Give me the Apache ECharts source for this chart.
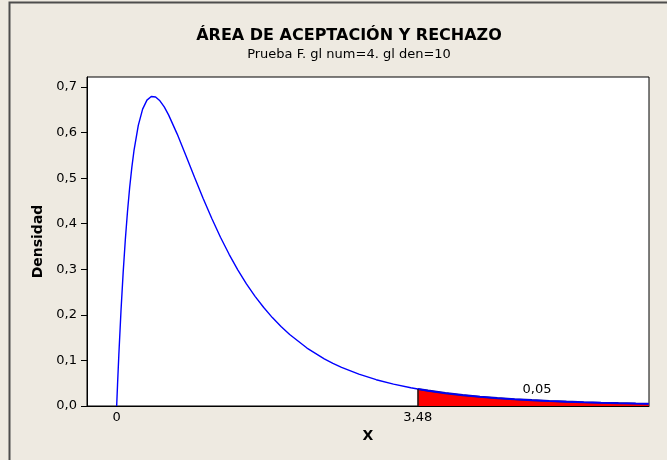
<!DOCTYPE html>
<html>
<head>
<meta charset="utf-8">
<script src="https://cdn.jsdelivr.net/npm/echarts@6/dist/echarts.min.js"></script>
<style>
html,body{margin:0;padding:0;background:#EEEAE1;}
#c{width:667px;height:460px;}
</style>
</head>
<body>
<div id="c"></div>
<script>
// Values
const titleText = 'ÁREA DE ACEPTACIÓN Y RECHAZO';
const subtitleText = 'Prueba F. gl num=4. gl den=10';
const xName = 'X';
const yName = 'Densidad';
const yTicks = [0, 0.1, 0.2, 0.3, 0.4, 0.5, 0.6, 0.7];
const xTickValues = [0, 3.48];
const critical = 3.48;
const tailLabel = '0,05';
const tailLabelAt = [4.86, 0.037];
const xs = [0, 0.01, 0.025, 0.05, 0.075, 0.1, 0.125, 0.15, 0.175, 0.2, 0.25, 0.3, 0.35, 0.4, 0.45, 0.5, 0.55, 0.6, 0.7, 0.8, 0.9, 1.0, 1.1, 1.2, 1.3, 1.4, 1.5, 1.6, 1.7, 1.8, 1.9, 2.0, 2.2, 2.4, 2.5, 2.6, 2.8, 3.0, 3.2, 3.4, 3.48, 3.6, 3.8, 4.0, 4.2, 4.4, 4.6, 4.8, 5.0, 5.2, 5.4, 5.6, 5.8, 6.0, 6.15];
const density = [0, 0.0467, 0.1119, 0.2089, 0.2927, 0.3648, 0.4264, 0.4789, 0.5231, 0.5602, 0.6158, 0.6515, 0.6713, 0.6793, 0.6780, 0.6698, 0.6563, 0.6388, 0.5967, 0.5499, 0.5020, 0.4553, 0.4113, 0.3703, 0.3329, 0.2989, 0.2682, 0.2407, 0.2161, 0.1940, 0.1743, 0.1568, 0.1272, 0.1036, 0.09375, 0.08485, 0.06981, 0.05770, 0.04794, 0.04002, 0.03727, 0.03356, 0.02826, 0.02390, 0.02030, 0.01732, 0.01482, 0.01274, 0.01097, 0.00949, 0.00823, 0.00717, 0.00626, 0.00548, 0.00497];

const curve = xs.map((x, i) => [x, density[i]]);
const tail = curve.filter(p => p[0] >= critical);
const critDensity = density[xs.indexOf(critical)];
const fmt = v => String(v).replace('.', ',');
const FONT = "'DejaVu Sans', sans-serif";

const chart = echarts.init(document.getElementById('c'), null, {renderer: 'canvas'});
chart.setOption({
  backgroundColor: '#EEEAE1',
  animation: false,
  graphic: [{
    type: 'rect', z: -10, silent: true,
    shape: {x: 9.5, y: 2.5, width: 700, height: 500},
    style: {fill: '#EEEAE1', stroke: '#4d4d4d', lineWidth: 2}
  }],
  title: {
    text: titleText,
    subtext: subtitleText,
    left: 344, top: 23, textAlign: 'center', itemGap: 4,
    textStyle: {fontFamily: FONT, fontSize: 16, fontWeight: 'bold', color: '#000'},
    subtextStyle: {fontFamily: FONT, fontSize: 13, color: '#000'}
  },
  grid: {
    left: 87, top: 77, width: 562, height: 329,
    show: true, backgroundColor: '#ffffff', borderColor: '#000', borderWidth: 1
  },
  xAxis: {
    type: 'value', min: -0.343, max: 6.154,
    name: xName, nameLocation: 'middle', nameGap: 22,
    nameTextStyle: {fontFamily: FONT, fontSize: 14, fontWeight: 'bold', color: '#000'},
    axisLine: {show: true, onZero: false, lineStyle: {color: '#000', width: 1}},
    axisTick: {show: false},
    splitLine: {show: false},
    axisLabel: {
      customValues: xTickValues, margin: 5,
      fontFamily: FONT, fontSize: 13, color: '#000',
      formatter: v => fmt(v)
    }
  },
  yAxis: {
    type: 'value', min: 0, max: 0.722,
    name: yName, nameLocation: 'middle', nameGap: 42,
    nameTextStyle: {fontFamily: FONT, fontSize: 14, fontWeight: 'bold', color: '#000'},
    axisLine: {show: true, onZero: false, lineStyle: {color: '#000', width: 1}},
    axisTick: {show: true, customValues: yTicks, length: 6, lineStyle: {color: '#000'}},
    splitLine: {show: false},
    axisLabel: {
      customValues: yTicks, margin: 10,
      fontFamily: FONT, fontSize: 13, color: '#000',
      formatter: v => v.toFixed(1).replace('.', ',')
    }
  },
  series: [
    {
      type: 'line', data: tail, symbol: 'none', z: 2,
      lineStyle: {color: '#1010a8', width: 2.2},
      areaStyle: {color: '#ff0000', opacity: 1, origin: 'start'},
      markLine: {
        silent: true, symbol: 'none', label: {show: false},
        lineStyle: {color: '#1a1a1a', width: 1.5, type: 'solid'},
        data: [[{coord: [critical, 0]}, {coord: [critical, critDensity]}]]
      }
    },
    {
      type: 'line', data: curve, symbol: 'none', z: 3,
      lineStyle: {color: '#0000ff', width: 1.4}
    },
    {
      type: 'scatter', data: [tailLabelAt], symbolSize: 0, z: 4,
      itemStyle: {opacity: 1},
      label: {show: true, position: 'inside', formatter: tailLabel,
        fontFamily: FONT, fontSize: 13, color: '#000', opacity: 1}
    }
  ]
});
</script>
</body>
</html>
